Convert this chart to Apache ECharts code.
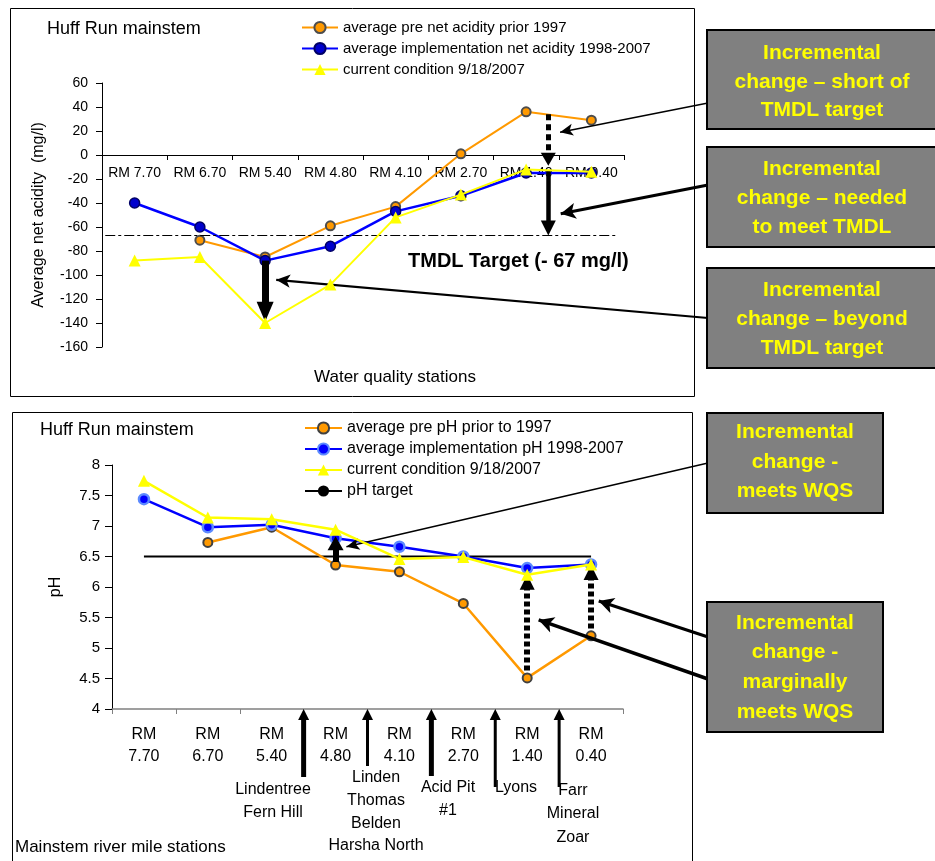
<!DOCTYPE html>
<html>
<head>
<meta charset="utf-8">
<script src="https://cdn.jsdelivr.net/npm/echarts/dist/echarts.min.js"></script>
<style>
html,body{margin:0;padding:0;background:#fff;}
#top{position:absolute;left:0;top:0;width:935px;height:400px;}
#bottom{position:absolute;left:0;top:400px;width:935px;height:461px;}
</style>
</head>
<body>
<div id="top"></div>
<div id="bottom"></div>
<script>
// ---------------- data ----------------
const stations = ['RM 7.70', 'RM 6.70', 'RM 5.40', 'RM 4.80', 'RM 4.10', 'RM 2.70', 'RM 1.40', 'RM 0.40'];

const aciditySeriesNames = [
  'average pre net acidity prior 1997',
  'average implementation net acidity 1998-2007',
  'current condition 9/18/2007'
];
const acidityPre = [null, -71, -85, -59, -43, 1, 36, 29];
const acidityImpl = [-40, -60, -88, -76, -47, -34, -15, -15];
const acidityCurrent = [-88, -85, -140, -108, -52, -33, -12, -14];
const tmdlTarget = -67;
const acidityTicks = [-160, 60, 20]; // min, max, interval

const phSeriesNames = [
  'average pre pH prior to 1997',
  'average implementation pH 1998-2007',
  'current condition 9/18/2007',
  'pH target'
];
const phPre = [null, 6.73, 6.98, 6.36, 6.25, 5.73, 4.51, 5.2];
const phImpl = [7.44, 6.98, 7.02, 6.8, 6.66, 6.5, 6.31, 6.37];
const phCurrent = [7.74, 7.14, 7.11, 6.94, 6.46, 6.49, 6.2, 6.37];
const phTarget = 6.5;
const phTicks = [4, 8, 0.5];

// tributaries entering between stations (boundary index between categories)
const tributaries = [
  { at: 3, names: ['Lindentree', 'Fern Hill'] },
  { at: 4, names: ['Linden', 'Thomas', 'Belden', 'Harsha North'] },
  { at: 5, names: ['Acid Pit', '#1'] },
  { at: 6, names: ['Lyons'] },
  { at: 7, names: ['Farr', 'Mineral', 'Zoar'] }
];

// ---------------- layout ----------------
const FONT = '"Liberation Sans", Arial, Helvetica, sans-serif';
const topGrid = { left: 102, top: 83, width: 522, height: 264 };
const botGrid = { left: 112, top: 65, width: 511, height: 244 };
const acidPx = topGrid.height / (acidityTicks[1] - acidityTicks[0]);
const phPx = botGrid.height / (phTicks[1] - phTicks[0]);
// distance of the zero line above the bottom of the top grid
const zeroOffset = (0 - acidityTicks[0]) * acidPx;

const tribLayout = [
  { len: 68, w: 5, lx: 273, ly: 378.5, lh: 23 },
  { len: 57, w: 3, lx: 376, ly: 366.5, lh: 22.7 },
  { len: 67, w: 5, lx: 448, ly: 376.5, lh: 23 },
  { len: 78, w: 3, lx: 516, ly: 376.5, lh: 23 },
  { len: 78, w: 3, lx: 573, ly: 378.5, lh: 23.5 }
];

function vArrow(x, from, tip, head, width, dash, pxPerUnit) {
  const dir = tip > from ? 1 : -1;
  const end = tip - dir * head[1] / 2 / pxPerUnit;
  return [
    { coord: [x, from], symbol: 'none', lineStyle: { color: '#000', width: width, type: dash || 'solid' } },
    { coord: [x, end], symbol: 'triangle', symbolSize: head, itemStyle: { color: '#000' } }
  ];
}
function callout(px, py, cx, cy, width, head) {
  return [
    { x: px, y: py, symbol: 'none', lineStyle: { color: '#000', width: width, type: 'solid' } },
    { coord: [cx, cy], symbol: 'arrow', symbolSize: head, itemStyle: { color: '#000' } }
  ];
}
function box(x, y, w, h, text, cx, cy, lh) {
  return [
    { type: 'rect', z: 20, shape: { x: x, y: y, width: w, height: h },
      style: { fill: '#808080', stroke: '#000', lineWidth: 2 } },
    { type: 'text', z: 21, style: { text: text, x: cx, y: cy, align: 'center', verticalAlign: 'middle',
      font: 'bold 21px ' + FONT, fill: '#FFFF00', lineHeight: lh } }
  ];
}

function lineSeries(name, data, opts) {
  return Object.assign({
    name: name, type: 'line', data: data, xAxisIndex: 0, yAxisIndex: 0,
    emphasis: { disabled: true }, animation: false
  }, opts);
}

// ---------------- top chart ----------------
const topChart = echarts.init(document.getElementById('top'), null, { renderer: 'canvas' });
const topOption = {
  animation: false,
  textStyle: { fontFamily: FONT },
  title: { text: 'Huff Run mainstem', left: 47, top: 20, padding: 0,
    textStyle: { fontSize: 18, fontWeight: 'normal', color: '#000', fontFamily: FONT } },
  legend: {
    data: aciditySeriesNames, orient: 'vertical', left: 301, top: 20, padding: 0,
    itemWidth: 36, itemHeight: 14, itemGap: 6,
    textStyle: { fontSize: 15, color: '#000', fontFamily: FONT }
  },
  grid: topGrid,
  xAxis: [
    { type: 'category', data: stations, boundaryGap: true, position: 'bottom', offset: -zeroOffset,
      axisLine: { onZero: false, lineStyle: { color: '#000', width: 1 } },
      axisTick: { show: true, length: 5, lineStyle: { color: '#000' } },
      axisLabel: { color: '#000', fontSize: 14, margin: 11, interval: 0, fontFamily: FONT },
      splitLine: { show: false } },
    { type: 'value', min: 0, max: stations.length, show: false }
  ],
  yAxis: {
    type: 'value', min: acidityTicks[0], max: acidityTicks[1], interval: acidityTicks[2],
    axisLine: { show: true, onZero: false, lineStyle: { color: '#000' } },
    axisTick: { show: true, length: 6, lineStyle: { color: '#000' } },
    axisLabel: { color: '#000', fontSize: 14, margin: 14, fontFamily: FONT },
    splitLine: { show: false },
    name: 'Average net acidity  (mg/l)', nameLocation: 'middle', nameGap: 55, nameRotate: 90,
    nameTextStyle: { fontSize: 16, color: '#000', fontFamily: FONT }
  },
  series: [
    lineSeries(aciditySeriesNames[0], acidityPre, {
      symbol: 'circle', symbolSize: 9, z: 3,
      lineStyle: { color: '#FF9900', width: 2 },
      itemStyle: { color: '#FF9900', borderColor: '#4d4d4d', borderWidth: 2 } }),
    lineSeries(aciditySeriesNames[1], acidityImpl, {
      symbol: 'circle', symbolSize: 10, z: 4,
      lineStyle: { color: '#0000FF', width: 2.5 },
      itemStyle: { color: '#0000CC', borderColor: '#000066', borderWidth: 1.5 } }),
    lineSeries(aciditySeriesNames[2], acidityCurrent, {
      symbol: 'triangle', symbolSize: 12, z: 5,
      lineStyle: { color: '#FFFF00', width: 2 },
      itemStyle: { color: '#FFFF00' } }),
    { name: 'annotations', type: 'line', xAxisIndex: 1, yAxisIndex: 0, data: [], silent: true, z: 6,
      color: '#000', itemStyle: { color: '#000' }, lineStyle: { color: '#000' },
      markLine: {
        silent: true, animation: false, symbol: ['none', 'none'],
        label: { show: false }, emphasis: { disabled: true },
        lineStyle: { color: '#000', type: 'solid' },
        data: [
          [ { coord: [0.05, tmdlTarget], symbol: 'none', lineStyle: { color: '#000', width: 1, type: [10, 3, 3, 3] } },
            { coord: [7.88, tmdlTarget], symbol: 'none' } ],
          vArrow(6.84, acidityPre[6] - 2, acidityCurrent[6] + 3, [15, 13], 5, [6, 4], acidPx),
          vArrow(6.84, acidityCurrent[6] - 1, tmdlTarget, [15, 15], 4.5, null, acidPx),
          vArrow(2.5, acidityImpl[2], acidityCurrent[2] + 1, [17, 20], 7, null, acidPx),
          callout(708, 103, 7.02, 19, 1.5, [9, 13]),
          callout(708, 185, 7.03, -49, 3, [12, 15]),
          callout(708, 318, 2.67, -104, 2.2, [10, 14])
        ]
      } }
  ],
  graphic: [
    { type: 'rect', z: 0, shape: { x: 10.5, y: 8.5, width: 684, height: 388 },
      style: { fill: 'none', stroke: '#000', lineWidth: 1 } },
    { type: 'text', z: 10, style: { text: 'TMDL Target (- 67 mg/l)', x: 408, y: 261, align: 'left',
      verticalAlign: 'middle', font: 'bold 20px ' + FONT, fill: '#000' } },
    { type: 'text', z: 10, style: { text: 'Water quality stations', x: 395, y: 377, align: 'center',
      verticalAlign: 'middle', font: '17px ' + FONT, fill: '#000' } }
  ].concat(
    box(707, 30, 240, 99, 'Incremental\nchange – short of\nTMDL target', 822, 82, 28.5),
    box(707, 147, 240, 100, 'Incremental\nchange – needed\nto meet TMDL', 822, 198, 29),
    box(707, 268, 240, 100, 'Incremental\nchange – beyond\nTMDL target', 822, 319, 29)
  )
};
topChart.setOption(topOption);

// ---------------- bottom chart ----------------
const bottomChart = echarts.init(document.getElementById('bottom'), null, { renderer: 'canvas' });
const bottomOption = {
  animation: false,
  textStyle: { fontFamily: FONT },
  title: { text: 'Huff Run mainstem', left: 40, top: 21, padding: 0,
    textStyle: { fontSize: 18, fontWeight: 'normal', color: '#000', fontFamily: FONT } },
  legend: {
    data: phSeriesNames, orient: 'vertical', left: 304, top: 20, padding: 0,
    itemWidth: 37, itemHeight: 14, itemGap: 5,
    textStyle: { fontSize: 16, color: '#000', fontFamily: FONT }
  },
  grid: botGrid,
  xAxis: [
    { type: 'category', data: stations.map(s => s.replace(' ', '\n')), boundaryGap: true,
      axisLine: { onZero: false, lineStyle: { color: '#808080', width: 1.5 } },
      axisTick: { show: true, length: 5, lineStyle: { color: '#808080' } },
      axisLabel: { color: '#000', fontSize: 16, lineHeight: 22, margin: 15, interval: 0, fontFamily: FONT },
      splitLine: { show: false } },
    { type: 'value', min: 0, max: stations.length, show: false }
  ],
  yAxis: {
    type: 'value', min: phTicks[0], max: phTicks[1], interval: phTicks[2],
    axisLine: { show: true, onZero: false, lineStyle: { color: '#000' } },
    axisTick: { show: true, length: 7, lineStyle: { color: '#000' } },
    axisLabel: { color: '#000', fontSize: 15, margin: 12, fontFamily: FONT },
    splitLine: { show: false },
    name: 'pH', nameLocation: 'middle', nameGap: 48, nameRotate: 90,
    nameTextStyle: { fontSize: 16, color: '#000', fontFamily: FONT }
  },
  series: [
    lineSeries(phSeriesNames[0], phPre, {
      symbol: 'circle', symbolSize: 9, z: 3,
      lineStyle: { color: '#FF9900', width: 2.5 },
      itemStyle: { color: '#FF9900', borderColor: '#404040', borderWidth: 2 } }),
    lineSeries(phSeriesNames[1], phImpl, {
      symbol: 'circle', symbolSize: 10, z: 4,
      lineStyle: { color: '#0000FF', width: 2.5 },
      itemStyle: { color: '#0000FF', borderColor: '#5C8AFF', borderWidth: 2.5 } }),
    lineSeries(phSeriesNames[2], phCurrent, {
      symbol: 'triangle', symbolSize: 12, z: 5,
      lineStyle: { color: '#FFFF00', width: 2.5 },
      itemStyle: { color: '#FFFF00' } }),
    lineSeries(phSeriesNames[3], stations.map(() => phTarget), {
      symbol: 'none', z: 2,
      lineStyle: { color: '#000', width: 2 },
      itemStyle: { color: '#000' } }),
    { name: 'annotations', type: 'line', xAxisIndex: 1, yAxisIndex: 0, data: [], silent: true, z: 6,
      color: '#000', itemStyle: { color: '#000' }, lineStyle: { color: '#000' },
      markLine: {
        silent: true, animation: false, symbol: ['none', 'none'],
        label: { show: false }, emphasis: { disabled: true },
        lineStyle: { color: '#000', type: 'solid' },
        data: [
          vArrow(3.5, phPre[3] + 0.05, phImpl[3] + 0.03, [16, 14], 6, null, phPx),
          vArrow(6.5, phPre[6] + 0.12, phCurrent[6], [15, 15], 6, [5, 3], phPx),
          vArrow(7.5, phPre[7] + 0.12, phCurrent[7] - 0.01, [15, 15], 6, [5, 3], phPx),
          callout(708, 63, 3.67, 6.66, 1.5, [9, 13]),
          callout(708, 237, 7.62, 5.77, 3, [12, 15]),
          callout(708, 279, 6.68, 5.46, 3.5, [12, 15])
        ]
      } }
  ]
};
bottomChart.setOption(bottomOption);

const baseY = bottomChart.convertToPixel({ yAxisIndex: 0 }, phTicks[0]);
const bottomGraphics = [
  { type: 'rect', z: 0, shape: { x: 12.5, y: 12.5, width: 680, height: 470 },
    style: { fill: 'none', stroke: '#000', lineWidth: 1 } },
  { type: 'text', z: 10, style: { text: 'Mainstem river mile stations', x: 15, y: 447, align: 'left',
    verticalAlign: 'middle', font: '17px ' + FONT, fill: '#000' } }
].concat(
  box(707, 13, 176, 100, 'Incremental\nchange -\nmeets WQS', 795, 62, 29.5),
  box(707, 202, 176, 130, 'Incremental\nchange -\nmarginally\nmeets WQS', 795, 267.5, 29.7)
);
tributaries.forEach((t, i) => {
  const L = tribLayout[i];
  const x = bottomChart.convertToPixel({ xAxisIndex: 1 }, t.at);
  bottomGraphics.push({ type: 'line', z: 8, shape: { x1: x, y1: baseY + L.len, x2: x, y2: baseY + 9 },
    style: { stroke: '#000', lineWidth: L.w } });
  bottomGraphics.push({ type: 'polygon', z: 8,
    shape: { points: [[x, baseY], [x - 5.5, baseY + 11], [x + 5.5, baseY + 11]] },
    style: { fill: '#000' } });
  bottomGraphics.push({ type: 'text', z: 8, style: { text: t.names.join('\n'), x: L.lx, y: L.ly,
    align: 'center', verticalAlign: 'top', font: '16px ' + FONT, lineHeight: L.lh, fill: '#000' } });
});
bottomChart.setOption({ graphic: bottomGraphics });
</script>
</body>
</html>
